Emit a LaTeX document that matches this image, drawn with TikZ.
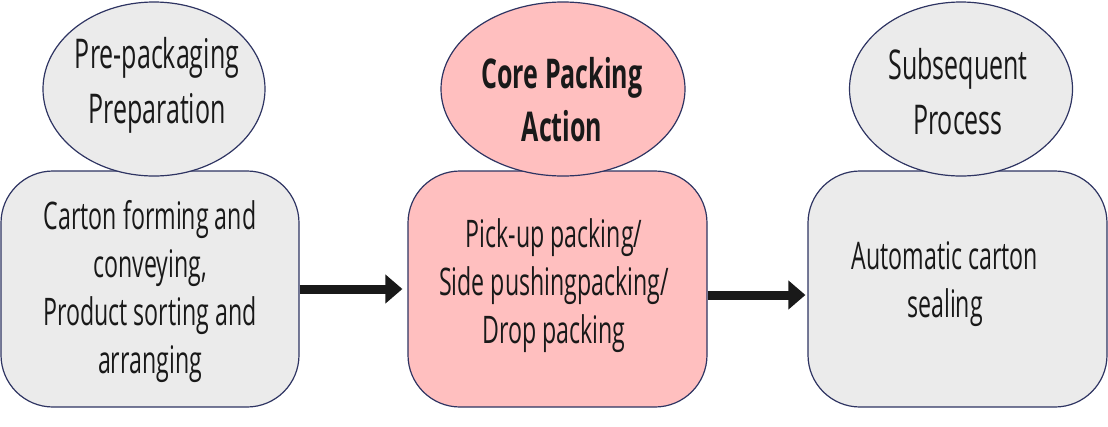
\documentclass[tikz,border=0pt]{standalone}
\usepackage{fontspec}
\setmainfont{Open Sans}[FakeStretch=0.61]
\usetikzlibrary{shapes.geometric,arrows.meta}
\definecolor{edge}{HTML}{2E3462}
\definecolor{greyfill}{HTML}{EBEBEB}
\definecolor{pinkfill}{HTML}{FFBFBF}
\begin{document}
\begin{tikzpicture}[x=1pt,y=-1pt,
  stagebox/.style={draw=edge,line width=1.2pt,rounded corners=52pt,
    minimum width=298pt,minimum height=236pt,inner sep=0pt},
  headoval/.style={ellipse,draw=edge,line width=1.2pt,inner sep=0pt},
  caption/.style={align=center,font=\fontsize{38}{48}\selectfont,text=black!90},
  titletext/.style={caption,font=\fontsize{41}{55}\selectfont},
  flow/.style={line width=9pt,draw=black!90,
    -{Triangle[length=17pt,width=28pt]}}]
\useasboundingbox (0,0) rectangle (1108,426);
% process stages
\node[stagebox,fill=greyfill] (prepbox) at (150,289) {};
\node[stagebox,fill=pinkfill,minimum width=299pt] (corebox) at (557.5,289) {};
\node[stagebox,fill=greyfill,minimum width=299pt] (sealbox) at (957.5,289) {};
% stage headings
\node[headoval,fill=greyfill,minimum width=222pt,minimum height=174pt] (prepoval) at (154,89) {};
\node[headoval,fill=pinkfill,minimum width=244pt,minimum height=174pt] (coreoval) at (563,89) {};
\node[headoval,fill=greyfill,minimum width=223pt,minimum height=174pt] (sealoval) at (961,89) {};
% heading texts
\node[titletext] (preptitle) at (157,85) {Pre-packaging\\Preparation};
\node[titletext,font=\fontsize{41}{53}\selectfont\bfseries] (coretitle) at (562,100) {Core Packing\\Action};
\node[titletext] (sealtitle) at (958,92) {Subsequent\\Process};
% stage contents
\node[caption] (preptext) at (150,292) {Carton forming and\\conveying,\\Product sorting and\\arranging};
\node[caption] (coretext) at (554,286) {Pick-up packing/\\Side pushingpacking/\\Drop packing};
\node[caption] (sealtext) at (945,284) {Automatic carton\\sealing};
% flow arrows
\draw[flow] (prepbox.east) -- ([xshift=-5pt]corebox.west);
\draw[flow] ([yshift=-6pt]corebox.east) -- ([xshift=-2pt,yshift=-6pt]sealbox.west);
\end{tikzpicture}
\end{document}
